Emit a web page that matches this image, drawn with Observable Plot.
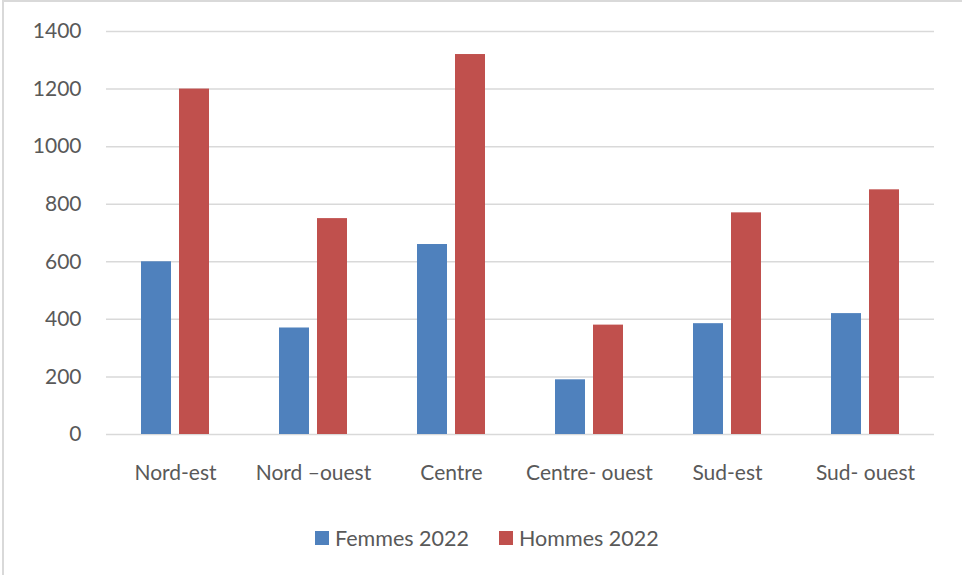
<!DOCTYPE html>
<html>
<head>
<meta charset="utf-8">
<script src="https://cdn.jsdelivr.net/npm/d3@7"></script>
<script src="https://cdn.jsdelivr.net/npm/@observablehq/plot@0.6"></script>
<style>
  html, body { margin: 0; padding: 0; background: #fff; }
  #wrap { position: relative; width: 962px; height: 575px; overflow: hidden; font-family: Lato, "Open Sans", sans-serif; }
  #frame { position: absolute; left: 2px; top: 0; width: 960px; height: 575px; border-left: 2px solid #d9d9d9; border-top: 2px solid #d9d9d9; box-sizing: border-box; pointer-events: none; }
  #chart { position: absolute; left: 0; top: 0; }
  #legend { position: absolute; left: 315px; top: 525px; display: flex; align-items: center; font-size: 21.5px; color: #595959; white-space: nowrap; }
  .item { display: flex; align-items: center; margin-right: 30px; }
  .sw { width: 14px; height: 14px; margin-right: 6px; }
</style>
</head>
<body>
<div id="wrap">
  <div id="chart"></div>
  <div id="legend"></div>
  <div id="frame"></div>
</div>
<script>
const regions = ["Nord-est", "Nord –ouest", "Centre", "Centre- ouest", "Sud-est", "Sud- ouest"];
const series = ["Femmes 2022", "Hommes 2022"];
const femmes = [600, 370, 660, 190, 385, 420];
const hommes = [1200, 750, 1320, 380, 770, 850];
const colors = ["#4f81bd", "#c0504d"];
const yTicks = [0, 200, 400, 600, 800, 1000, 1200, 1400];

const table = [];
regions.forEach((r, i) => {
  table.push({region: r, serie: series[0], value: femmes[i]});
  table.push({region: r, serie: series[1], value: hommes[i]});
});

const chart = Plot.plot({
  width: 962,
  height: 500,
  marginLeft: 105,
  marginRight: 27,
  marginTop: 31,
  marginBottom: 66,
  style: {fontFamily: "Lato, 'Open Sans', sans-serif", fontSize: "21px", color: "#595959", background: "transparent"},
  fx: {domain: regions, padding: 0, label: null, axis: "bottom", tickSize: 0, tickPadding: 31},
  x: {domain: series, axis: null, paddingInner: 0.205, paddingOuter: 0.876},
  y: {domain: [0, 1400], ticks: yTicks, tickSize: 0, tickPadding: 25, label: null, tickFormat: d => String(d)},
  color: {domain: series, range: colors},
  marks: [
    Plot.ruleY(yTicks, {stroke: "#d9d9d9", strokeWidth: 1.5}),
    Plot.barY(table, {fx: "region", x: "serie", y: "value", fill: "serie"})
  ]
});
document.getElementById("chart").appendChild(chart);

const legend = document.getElementById("legend");
series.forEach((s, i) => {
  const item = document.createElement("div");
  item.className = "item";
  const sw = document.createElement("div");
  sw.className = "sw";
  sw.style.background = colors[i];
  const tx = document.createElement("span");
  tx.textContent = s;
  item.appendChild(sw);
  item.appendChild(tx);
  legend.appendChild(item);
});
</script>
</body>
</html>
